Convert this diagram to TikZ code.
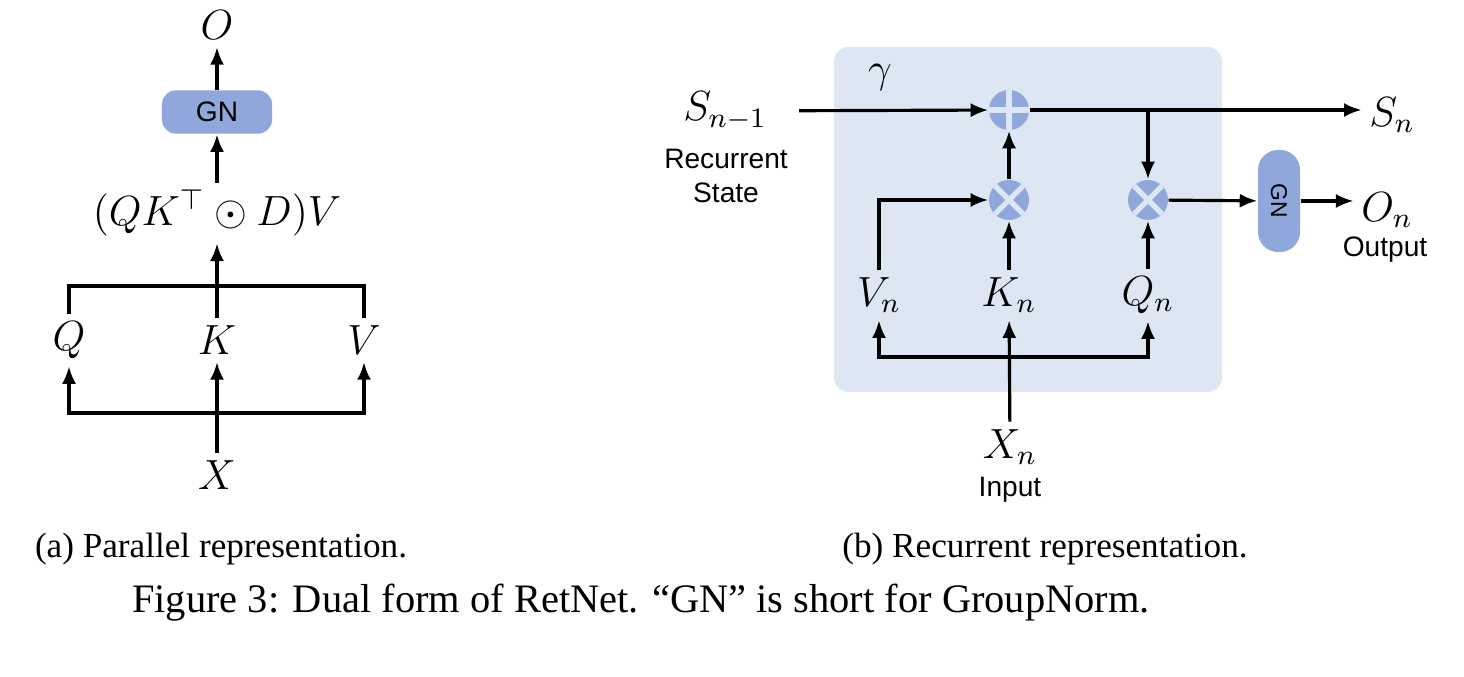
\documentclass[tikz,border=0pt]{standalone}
\usepackage{fontspec}
\setmainfont{Liberation Serif}
\setsansfont{Liberation Sans}
\usepackage{amsmath,amssymb}
\usepackage{tikz}
\usetikzlibrary{arrows,arrows.meta,positioning,calc}
\definecolor{gnblue}{RGB}{143,167,219}
\definecolor{panelblue}{RGB}{221,231,244}

\begin{document}
\begin{tikzpicture}[
    x=0.01cm, y=-0.01cm,
    var/.style={inner sep=2pt, font=\fontsize{12}{14}\selectfont},
    tag/.style={inner sep=1pt, font=\sffamily\fontsize{8}{9.5}\selectfont, align=center},
    gn/.style={rectangle, fill=gnblue, rounded corners=4pt, minimum width=1.1cm, minimum height=0.43cm, font=\sffamily\fontsize{8}{9}\selectfont},
    op/.style={circle, fill=gnblue, minimum size=0.4cm, inner sep=0pt},
    plusop/.style={op, path picture={\draw[panelblue, line width=1.5pt] (path picture bounding box.north) -- (path picture bounding box.south) (path picture bounding box.west) -- (path picture bounding box.east);}},
    timesop/.style={op, path picture={\draw[panelblue, line width=1.5pt] (path picture bounding box.north west) -- (path picture bounding box.south east) (path picture bounding box.north east) -- (path picture bounding box.south west);}},
    panel/.style={rectangle, fill=panelblue, rounded corners=0.15cm, minimum width=3.88cm, minimum height=3.45cm},
    caption/.style={font=\fontsize{10}{12}\selectfont},
    arrow/.style={-{Latex[length=5pt,width=4pt]},line width=0.9pt},
    wire/.style={line width=0.9pt}
]
\path[use as bounding box, fill=white] (0,0) rectangle (1464,677);

% Parallel form
\node[var] (o) at (217,25) {$O$};
\node[gn] (gnl) at (217,112) {GN};
\node[var] (qkdv) at (217,213) {$(QK^{\top}\odot D)V$};
\node[var] (q) at (69,340) {$Q$};
\node[var] (k) at (217,340) {$K$};
\node[var] (v) at (364,340) {$V$};
\node[var] (x) at (217,475) {$X$};
\coordinate (ljoin) at (217,286);
\coordinate (lsplit) at (217,413);

\draw[arrow] (gnl) -- (o);
\draw[arrow] (qkdv) -- (gnl);
\draw[arrow] (ljoin) -- (qkdv);
\draw[wire] (q) |- (ljoin) -| (v);
\draw[wire] (k) -- (ljoin);
\draw[arrow] (x) -- (k);
\draw[arrow] (lsplit) -| (q);
\draw[arrow] (lsplit) -| (v);

% Recurrent form
\node[panel] (panel) at (1028,219.5) {};
\node[var] (snm1) at (725,111) {$S_{n-1}$};
\node[tag] (rstate) at (726,176) {Recurrent\\State};
\node[var] (gamma) at (880,78) {$\gamma$};
\node[plusop] (plus) at (1009,110) {};
\node[timesop] (mulk) at (1009,200) {};
\node[timesop] (mulq) at (1148,200) {};
\node[var] (vn) at (879,295) {$V_n$};
\node[var] (kn) at (1009,295) {$K_n$};
\node[var] (qn) at (1148,295) {$Q_n$};
\node[var] (xn) at (1010,447) {$X_n$};
\node[tag] (input) at (1010,490) {Input};
\node[gn, rotate=-90, minimum width=1.02cm, minimum height=0.42cm, rounded corners=0.2cm, font=\sffamily\fontsize{6.5}{8}\selectfont] (gnr) at (1279,201) {GN};
\node[var] (sn) at (1392,115) {$S_n$};
\node[var] (on) at (1387,210) {$O_n$};
\node[tag] (output) at (1385,250) {Output};
\coordinate (branch) at (1148,110);
\coordinate (rsplit) at (1009,357);

\draw[arrow, shorten <=7pt] (snm1) -- (plus);
\draw[arrow] (plus) -- (plus -| sn.west);
\draw[arrow] (branch) -- (mulq);
\draw[arrow] (mulk) -- (plus);
\draw[arrow] (vn) |- (mulk);
\draw[arrow] (kn) -- (mulk);
\draw[arrow] (qn) -- (mulq);
\draw[arrow] (mulq) -- (gnr);
\draw[arrow] (gnr) -- (gnr -| on.west);
\draw[arrow] (xn) -- (kn);
\draw[arrow] (rsplit) -| (vn);
\draw[arrow] (rsplit) -| (qn);

% Captions
\node[caption] (capa) at (221,549) {(a) Parallel representation.};
\node[caption] (capb) at (1045,549) {(b) Recurrent representation.};
\node[caption, font=\fontsize{11.5}{13}\selectfont] (figcap) at (641,603) {Figure 3: Dual form of RetNet. “GN” is short for GroupNorm.};

\end{tikzpicture}
\end{document}
